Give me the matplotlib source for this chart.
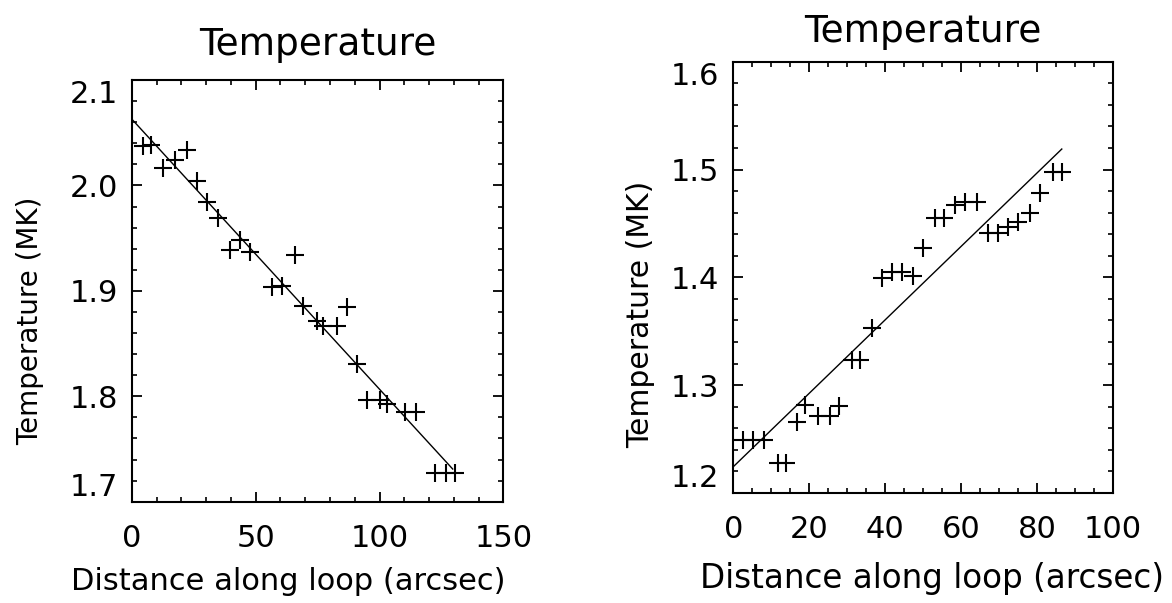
import matplotlib

matplotlib.use("Agg")
import matplotlib.pyplot as plt  # noqa: E402
from matplotlib.ticker import MultipleLocator  # noqa: E402

# left panel: temperature falls along loop
left_x = [4.7, 7.8, 12.7, 17.4, 22.1, 26.2, 30.2, 34.9, 39.6, 43.7, 47.7, 56.5, 60.5, 65.8,
          69.2, 74.6, 77.3, 82.7, 86.7, 90.7, 94.8, 100.1, 102.8, 110.2, 114.9, 122.3, 127.0, 130.4]
left_y = [2.037, 2.038, 2.017, 2.024, 2.034, 2.004, 1.984, 1.969, 1.939, 1.948, 1.937, 1.904, 1.905,
          1.934, 1.886, 1.871, 1.867, 1.867, 1.885, 1.831, 1.796, 1.796, 1.793, 1.785, 1.785,
          1.727, 1.727, 1.727]
left_fit_x = [0.0, 129.5]
left_fit_y = [2.063, 1.731]

# right panel: temperature rises along loop
right_x = [2.6, 5.3, 8.0, 11.8, 14.0, 16.7, 18.9, 22.4, 25.5, 27.7, 31.2, 33.4, 36.4, 39.1, 41.7,
           44.3, 47.4, 50.0, 53.1, 55.6, 58.4, 61.0, 64.1, 67.2, 69.6, 72.4, 75.1, 78.1, 80.8,
           84.3, 86.5]
right_y = [1.249, 1.249, 1.249, 1.228, 1.228, 1.266, 1.282, 1.271, 1.271, 1.281, 1.323, 1.323,
           1.353, 1.399, 1.405, 1.405, 1.401, 1.427, 1.455, 1.455, 1.467, 1.470, 1.470, 1.441,
           1.441, 1.447, 1.451, 1.460, 1.478, 1.498, 1.498]
right_fit_x = [0.0, 86.5]
right_fit_y = [1.2244, 1.519]

left_xticks = [0, 50, 100, 150]
left_yticks = [1.7, 1.8, 1.9, 2.0, 2.1]
right_xticks = [0, 20, 40, 60, 80, 100]
right_yticks = [1.2, 1.3, 1.4, 1.5, 1.6]

plt.rcParams.update({
    "font.family": "DejaVu Sans",
    "axes.linewidth": 1.5,
    "xtick.direction": "in", "ytick.direction": "in",
    "xtick.top": True, "ytick.right": True,
    "xtick.major.size": 7.5, "ytick.major.size": 7.5,
    "xtick.minor.size": 3.5, "ytick.minor.size": 3.5,
    "xtick.major.width": 1.3, "ytick.major.width": 1.3,
    "xtick.minor.width": 1.2, "ytick.minor.width": 1.2,
})


def panel(ax, x, y, fx, fy, xticks, yticks, xminor, fs, title_fs, title_pad,
          xlab_fs, xlab_xy, ylab_fs, ylab_xy):
    ax.plot(x, y, ls="none", marker="+", ms=13, mew=1.5, color="black")
    ax.plot(fx, fy, color="black", lw=1.0)
    ax.set_xlim(xticks[0], xticks[-1])
    ax.set_ylim(yticks[0], yticks[-1])
    ax.set_xticks(xticks)
    ax.set_xticklabels([str(t) for t in xticks], fontsize=fs)
    ax.set_yticks(yticks)
    ax.set_yticklabels([f"{t:.1f}" for t in yticks], fontsize=fs)
    ax.xaxis.set_minor_locator(MultipleLocator(xminor))
    ax.yaxis.set_minor_locator(MultipleLocator(0.02))
    ax.tick_params(axis="x", which="both", pad=16)
    ax.tick_params(axis="y", which="both", pad=10)
    # IDL-style: end labels pulled inside the axis range
    labs = ax.get_yticklabels()
    labs[0].set_va("bottom")
    labs[-1].set_va("top")
    ax.set_title("Temperature", fontsize=title_fs, pad=title_pad)
    ax.set_xlabel("Distance along loop (arcsec)", fontsize=xlab_fs)
    ax.xaxis.set_label_coords(*xlab_xy)
    ax.set_ylabel("Temperature (MK)", fontsize=ylab_fs)
    ax.yaxis.set_label_coords(*ylab_xy)


fig = plt.figure(figsize=(11.72, 6.03), dpi=100)
ax1 = fig.add_axes([0.1124, 0.168, 0.3172, 0.6993])
ax2 = fig.add_axes([0.6257, 0.1824, 0.324, 0.7153])

panel(ax1, left_x, left_y, left_fit_x, left_fit_y, left_xticks, left_yticks, 10,
      fs=22, title_fs=27, title_pad=18, xlab_fs=22, xlab_xy=(0.42, -0.155),
      ylab_fs=20, ylab_xy=(-0.235, 0.43))
panel(ax2, right_x, right_y, right_fit_x, right_fit_y, right_xticks, right_yticks, 5,
      fs=22, title_fs=27, title_pad=14, xlab_fs=23.5, xlab_xy=(0.523, -0.16),
      ylab_fs=21.5, ylab_xy=(-0.205, 0.415))

fig.savefig("out.png", dpi=100, facecolor="white")
